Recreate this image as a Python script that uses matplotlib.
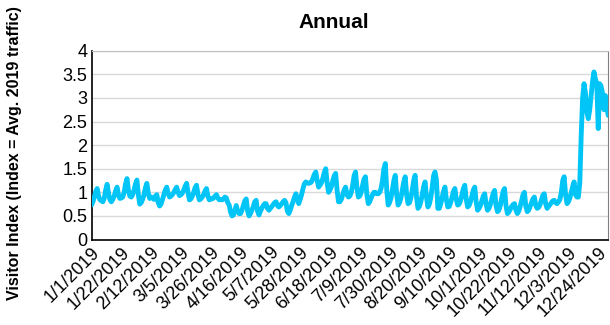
import matplotlib
matplotlib.use("Agg")
import matplotlib.pyplot as plt
import pandas as pd

plt.rcParams['font.family'] = ['Liberation Sans', 'DejaVu Sans']

title = "Annual"
ylabel = "Visitor Index (Index = Avg. 2019 traffic)"
start_date = "2019-01-01"

# daily visitor index, one row per week (Tue..Mon), last value Dec 31
weeks = [
    [0.73, 0.80, 0.90, 1.02, 1.08, 0.92, 0.84],
    [0.82, 0.80, 0.88, 1.05, 1.17, 0.98, 0.84],
    [0.80, 0.85, 0.92, 1.03, 1.11, 0.95, 0.87],
    [0.88, 0.90, 1.00, 1.18, 1.29, 1.05, 0.92],
    [0.90, 0.95, 1.05, 1.18, 1.26, 0.95, 0.75],
    [0.78, 0.85, 0.95, 1.10, 1.19, 0.98, 0.87],
    [0.90, 0.88, 0.85, 0.92, 0.95, 0.78, 0.71],
    [0.75, 0.85, 0.95, 1.05, 1.11, 0.98, 0.90],
    [0.92, 0.95, 1.00, 1.06, 1.11, 1.00, 0.93],
    [0.95, 0.98, 1.05, 1.13, 1.19, 1.00, 0.84],
    [0.86, 0.92, 1.00, 1.10, 1.15, 0.95, 0.84],
    [0.86, 0.90, 0.95, 1.03, 1.08, 0.92, 0.84],
    [0.86, 0.86, 0.88, 0.92, 0.95, 0.88, 0.84],
    [0.85, 0.84, 0.86, 0.90, 0.88, 0.78, 0.73],
    [0.58, 0.50, 0.52, 0.62, 0.72, 0.60, 0.55],
    [0.55, 0.62, 0.72, 0.82, 0.86, 0.60, 0.50],
    [0.55, 0.62, 0.70, 0.80, 0.83, 0.60, 0.52],
    [0.60, 0.66, 0.72, 0.76, 0.76, 0.66, 0.62],
    [0.66, 0.70, 0.74, 0.78, 0.80, 0.72, 0.69],
    [0.72, 0.76, 0.80, 0.83, 0.78, 0.60, 0.55],
    [0.62, 0.72, 0.80, 0.90, 0.97, 0.85, 0.76],
    [0.85, 0.95, 1.08, 1.18, 1.22, 1.20, 1.19],
    [1.20, 1.22, 1.30, 1.38, 1.43, 1.25, 1.11],
    [1.15, 1.20, 1.30, 1.42, 1.50, 1.20, 1.00],
    [1.05, 1.12, 1.25, 1.35, 1.40, 1.05, 0.80],
    [0.80, 0.85, 0.95, 1.05, 1.11, 0.95, 0.90],
    [0.92, 1.00, 1.15, 1.35, 1.43, 1.10, 0.90],
    [0.92, 1.00, 1.15, 1.28, 1.33, 0.95, 0.76],
    [0.80, 0.88, 0.95, 1.00, 1.00, 0.97, 0.97],
    [1.00, 1.08, 1.25, 1.50, 1.61, 1.05, 0.73],
    [0.78, 0.88, 1.05, 1.25, 1.36, 0.95, 0.73],
    [0.78, 0.88, 1.05, 1.22, 1.33, 0.95, 0.76],
    [0.78, 0.88, 1.05, 1.25, 1.36, 0.90, 0.66],
    [0.70, 0.80, 0.95, 1.12, 1.22, 0.90, 0.69],
    [0.75, 0.88, 1.10, 1.35, 1.43, 1.26, 0.66],
    [0.66, 0.75, 0.88, 1.02, 1.11, 0.85, 0.69],
    [0.70, 0.78, 0.90, 1.02, 1.08, 0.85, 0.73],
    [0.75, 0.82, 0.95, 1.08, 1.15, 0.85, 0.69],
    [0.72, 0.80, 0.92, 1.05, 1.11, 0.80, 0.62],
    [0.66, 0.72, 0.82, 0.92, 0.97, 0.75, 0.62],
    [0.66, 0.74, 0.86, 0.98, 1.04, 0.72, 0.59],
    [0.62, 0.72, 0.88, 1.02, 1.08, 0.72, 0.55],
    [0.58, 0.64, 0.70, 0.74, 0.76, 0.62, 0.55],
    [0.60, 0.70, 0.82, 0.95, 1.00, 0.70, 0.59],
    [0.62, 0.70, 0.78, 0.86, 0.90, 0.72, 0.66],
    [0.68, 0.74, 0.84, 0.94, 0.97, 0.75, 0.66],
    [0.70, 0.74, 0.78, 0.82, 0.83, 0.78, 0.76],
    [0.80, 0.85, 1.00, 1.25, 1.33, 0.95, 0.76],
    [0.80, 0.88, 1.00, 1.12, 1.22, 0.95, 0.90],
    [0.90, 1.20, 2.20, 3.00, 3.30, 3.10, 2.70],
    [2.56, 2.75, 3.05, 3.35, 3.55, 3.40, 3.30],
    [2.35, 3.30, 3.25, 3.10, 2.75, 3.05, 2.85],
]
last_days = [2.63]

tick_labels = ["1/1/2019", "1/22/2019", "2/12/2019", "3/5/2019", "3/26/2019",
               "4/16/2019", "5/7/2019", "5/28/2019", "6/18/2019", "7/9/2019",
               "7/30/2019", "8/20/2019", "9/10/2019", "10/1/2019", "10/22/2019",
               "11/12/2019", "12/3/2019", "12/24/2019"]
y_ticks = [0, 0.5, 1, 1.5, 2, 2.5, 3, 3.5, 4]
y_tick_labels = ["0", "0.5", "1", "1.5", "2", "2.5", "3", "3.5", "4"]

values = [v for w in weeks for v in w] + last_days
dates = pd.date_range(start_date, periods=len(values), freq="D")

fig = plt.figure(figsize=(6.1, 3.25), dpi=100)
ax = fig.add_axes([0.150, 0.263, 0.847, 0.581])

for y in y_ticks[1:]:
    ax.axhline(y, color="#d9d9d9", lw=1.0, zorder=0)

ax.plot(dates, values, color="#00C5F6", lw=3.5, solid_joinstyle="round",
        solid_capstyle="round", zorder=3)

ax.set_ylim(0, 4)
ax.set_xlim(dates[0], dates[-1])
ax.set_yticks(y_ticks)
ax.set_yticklabels(y_tick_labels, fontsize=13)
tick_pos = pd.to_datetime(tick_labels, format="%m/%d/%Y")
ax.set_xticks(tick_pos)
ax.set_xticklabels(tick_labels, fontsize=13, rotation=45, ha="right",
                   rotation_mode="anchor")
ax.tick_params(axis="both", length=0, pad=3)

ax.spines["left"].set_color("black")
ax.spines["bottom"].set_color("black")
ax.spines["left"].set_linewidth(1.2)
ax.spines["bottom"].set_linewidth(1.2)
ax.spines["top"].set_color("#bfbfbf")
ax.spines["right"].set_color("#7f7f7f")

ax.set_title(title, fontsize=15, fontweight="bold", pad=16, x=0.469)
ax.set_ylabel(ylabel, fontsize=11.5, fontweight="bold")
ax.yaxis.set_label_coords(-0.135, 0.457)

fig.savefig("out.png", dpi=100)
